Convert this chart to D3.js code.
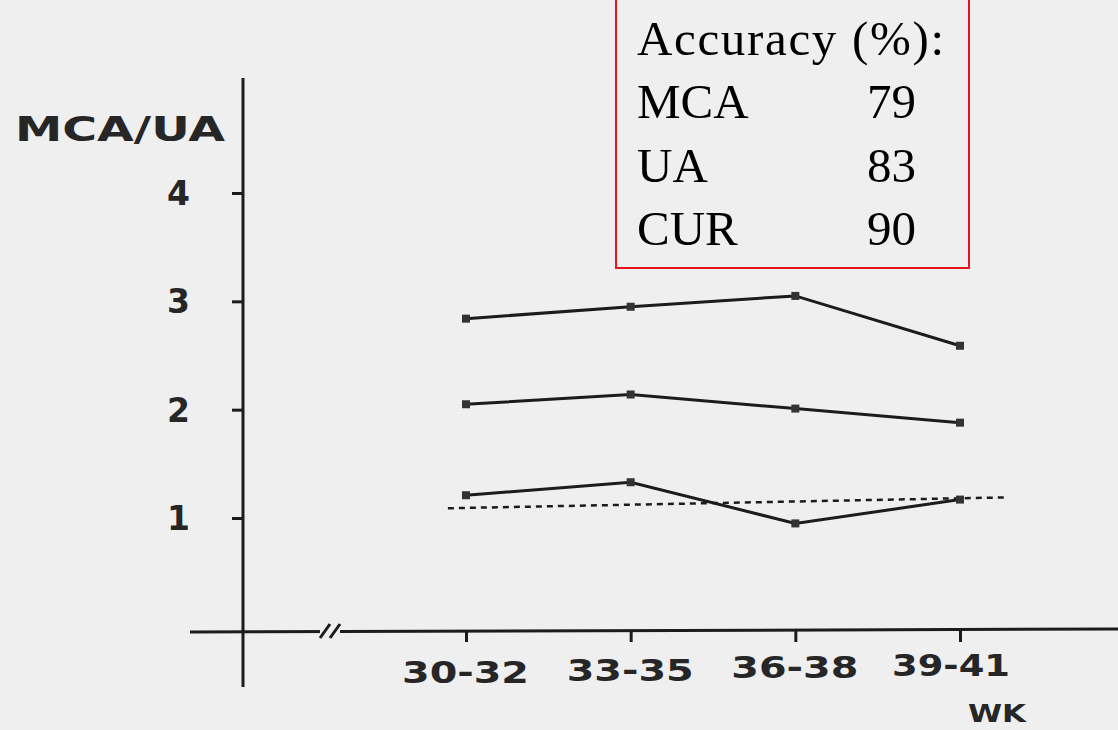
<!DOCTYPE html>
<html>
<head>
<meta charset="utf-8">
<script src="https://cdn.jsdelivr.net/npm/d3@7"></script>
<style>
  body { margin: 0; background: #efefef; }
  svg { display: block; }
  .lbl { font-family: "DejaVu Sans", sans-serif; font-weight: bold; fill: #262626; }
  .acc { font-family: "Liberation Serif", "Times New Roman", serif; font-size: 49px; fill: #000; }
</style>
</head>
<body>
<svg id="chart" width="1118" height="730"></svg>
<script>
// gestational-age groups (weeks)
const weeks = ['30-32', '33-35', '36-38', '39-41'];
// three ratio curves
const upper = [2.84, 2.95, 3.05, 2.59];
const middle = [2.05, 2.14, 2.01, 1.88];
const lower = [1.21, 1.33, 0.95, 1.17];
// dashed reference line, ends given as [group index, value]
const refLine = [[-0.11, 1.09], [3.27, 1.19]];
const yTicks = [1, 2, 3, 4];
const accuracy = [['MCA', 79], ['UA', 83], ['CUR', 90]];

const svg = d3.select('#chart');
const ink = '#1c1c1c';

const x = d3.scaleLinear().domain([0, 3]).range([466, 960]);
const y = d3.scaleLinear().domain([1, 4]).range([518, 193]);

// y axis
const yAxis = svg.append('g')
  .attr('transform', 'translate(243,0)')
  .call(d3.axisLeft(y).tickValues(yTicks).tickSize(11).tickPadding(0).tickFormat(d => ''));
yAxis.select('.domain').remove();
yAxis.selectAll('.tick line').attr('stroke', ink).attr('stroke-width', 3);
svg.append('line')
  .attr('x1', 243).attr('x2', 243).attr('y1', 78).attr('y2', 687)
  .attr('stroke', ink).attr('stroke-width', 3);
svg.selectAll('.ylab').data(yTicks).enter().append('text')
  .attr('class', 'lbl')
  .attr('x', 190).attr('y', d => y(d) + 12)
  .attr('text-anchor', 'end')
  .style('font-size', '33px')
  .text(d => d);

svg.append('text').attr('class', 'lbl')
  .attr('x', 15).attr('y', 141)
  .attr('textLength', 210).attr('lengthAdjust', 'spacingAndGlyphs')
  .style('font-size', '34px')
  .text('MCA/UA');

// x axis
const xAxis = svg.append('g')
  .attr('transform', 'translate(0,631)')
  .call(d3.axisBottom(x).tickValues(d3.range(weeks.length)).tickSize(11).tickFormat(d => ''));
xAxis.select('.domain').remove();
xAxis.selectAll('.tick line').attr('stroke', ink).attr('stroke-width', 3);
svg.append('line')
  .attr('x1', 190).attr('x2', 1118).attr('y1', 632).attr('y2', 629)
  .attr('stroke', ink).attr('stroke-width', 3);
// axis break mark
const brk = svg.append('g').attr('transform', 'translate(330,631)');
brk.append('rect').attr('x', -10).attr('y', -5).attr('width', 20).attr('height', 10).attr('fill', '#efefef');
[-5, 5].forEach(dx => brk.append('line')
  .attr('x1', dx - 5).attr('y1', 7).attr('x2', dx + 5).attr('y2', -7)
  .attr('stroke', ink).attr('stroke-width', 3));

svg.selectAll('.xlab').data(weeks).enter().append('text')
  .attr('class', 'lbl')
  .attr('x', (d, i) => x(i) - 64 + (i === 3 ? -4 : 0))
  .attr('y', (d, i) => 683 - i * 2.5)
  .attr('textLength', (d, i) => i === 3 ? 118 : 127)
  .attr('lengthAdjust', 'spacingAndGlyphs')
  .style('font-size', '30px')
  .text(d => d);

svg.append('text').attr('class', 'lbl')
  .attr('x', 968).attr('y', 722)
  .attr('textLength', 58).attr('lengthAdjust', 'spacingAndGlyphs')
  .style('font-size', '25px')
  .text('WK');

// dashed reference
const refGen = d3.line().x(d => x(d[0])).y(d => y(d[1]));
svg.append('path').attr('d', refGen(refLine))
  .attr('fill', 'none').attr('stroke', ink).attr('stroke-width', 2.5)
  .attr('stroke-dasharray', '6,5');

// series
const line = d3.line().x((d, i) => x(i)).y(d => y(d));
[upper, middle, lower].forEach(s => {
  svg.append('path').attr('d', line(s))
    .attr('fill', 'none').attr('stroke', ink).attr('stroke-width', 3);
  svg.selectAll(null).data(s).enter().append('rect')
    .attr('x', (d, i) => x(i) - 4).attr('y', d => y(d) - 4)
    .attr('width', 8).attr('height', 8).attr('fill', '#333');
});

// accuracy box
svg.append('rect')
  .attr('x', 616).attr('y', -5).attr('width', 353).attr('height', 273)
  .attr('fill', 'none').attr('stroke', '#e8141b').attr('stroke-width', 2);
svg.append('text').attr('class', 'acc')
  .attr('x', 637).attr('y', 55)
  .attr('textLength', 307).attr('lengthAdjust', 'spacing')
  .text('Accuracy (%):');
accuracy.forEach((r, i) => {
  svg.append('text').attr('class', 'acc').attr('x', 637).attr('y', 118 + i * 63.5).text(r[0]);
  svg.append('text').attr('class', 'acc').attr('x', 867).attr('y', 118 + i * 63.5).text(r[1]);
});
</script>
</body>
</html>
